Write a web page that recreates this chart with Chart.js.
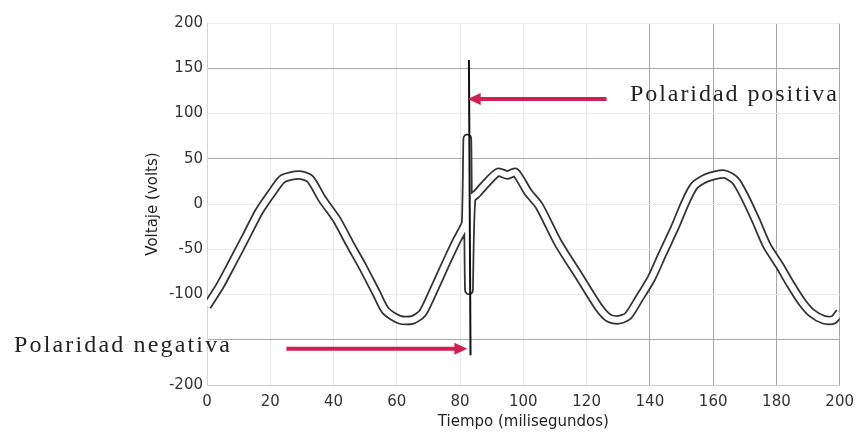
<!DOCTYPE html>
<html>
<head>
<meta charset="utf-8">
<script src="https://cdn.jsdelivr.net/npm/chart.js@4/dist/chart.umd.min.js"></script>
<style>
html,body{margin:0;padding:0;background:#fff;}
#wrap{width:862px;height:433px;}
</style>
</head>
<body>
<div id="wrap"><canvas id="c" width="862" height="433"></canvas></div>
<script>
// ---- data ----
const timeMs = [0, 4, 8, 12.5, 16.5, 21, 24, 29, 32.5, 36.5, 41, 45, 49, 53.5, 56.5, 61, 65, 68, 70, 73, 76, 79, 81, 81.8, 82.3, 82.8, 83.6, 85.5, 88, 92, 95, 97.5, 101.5, 105, 111, 117.5, 124, 127, 130, 133, 136.5, 140.5, 144, 148, 151, 154, 158, 163.5, 167, 170, 173.5, 177, 181, 184.5, 188, 191, 195, 198, 200];
const voltage = [-113, -91, -65, -35, -8, 15, 28, 32, 28, 5, -17, -43, -68, -98, -118, -128, -128, -121, -108, -85, -62, -40, -27, -20, 72, -95, 5, 12, 22, 35, 32, 35, 13, -2, -43, -79, -115, -126, -128, -124, -105, -82, -55, -25, 0, 20, 29, 33, 26, 8, -18, -46, -68, -89, -108, -120, -128, -128, -120];
const spikeTime = [82.8, 83.3];
const spikeVolt = [159, -167];
const xTicks = [0, 20, 40, 60, 80, 100, 120, 140, 160, 180, 200];
const yTicks = [200, 150, 100, 50, 0, -50, -100, -200];
// annotation arrows: [tailTime, tipTime, voltage]
const arrowPos = [126.3, 82.4, 116];
const arrowNeg = [25.1, 82.3, -160];
const labelPos = 'Polaridad positiva';
const labelNeg = 'Polaridad negativa';

const curve = timeMs.map((t, i) => ({x: t, y: voltage[i]}));
const spike = spikeTime.map((t, i) => ({x: t, y: spikeVolt[i]}));

const annot = {
  id: 'annot',
  afterDatasetsDraw(chart) {
    const ctx = chart.ctx, xs = chart.scales.x, ys = chart.scales.y;
    const red = '#cf1f53';
    function arrow(a) {
      const x0 = xs.getPixelForValue(a[0]);
      const x1 = xs.getPixelForValue(a[1]);
      const y = ys.getPixelForValue(a[2]);
      const dir = Math.sign(x1 - x0);
      ctx.save();
      ctx.strokeStyle = red; ctx.fillStyle = red;
      ctx.lineWidth = 4;
      ctx.beginPath();
      ctx.moveTo(x0, y); ctx.lineTo(x1 - dir * 10, y); ctx.stroke();
      ctx.beginPath();
      ctx.moveTo(x1, y);
      ctx.lineTo(x1 - dir * 13, y - 6);
      ctx.lineTo(x1 - dir * 13, y + 6);
      ctx.closePath(); ctx.fill();
      ctx.restore();
    }
    function label(text, left, right, cy) {
      ctx.save();
      ctx.font = '24px "Liberation Serif", "Times New Roman", serif';
      ctx.fillStyle = '#222';
      ctx.textBaseline = 'middle';
      ctx.textAlign = 'left';
      const w = ctx.measureText(text).width;
      const target = right - left;
      if ('letterSpacing' in ctx) {
        ctx.letterSpacing = ((target - w) / (text.length - 1)).toFixed(2) + 'px';
        ctx.fillText(text, left, cy);
      } else {
        ctx.translate(left, cy); ctx.scale(target / w, 1);
        ctx.fillText(text, 0, 0);
      }
      ctx.restore();
    }
    arrow(arrowPos);
    arrow(arrowNeg);
    label(labelPos, 630, 837, 95);
    label(labelNeg, 14, 230, 346);
  }
};

const tickFont = {family: '"DejaVu Sans", Verdana, sans-serif', size: 15};
const yGrid = v => (v === 150 || v === 50 || v === -150) ? '#a9a9a9' : (v === -200 ? '#cfcfcf' : '#ececec');
const xGrid = v => (v >= 140) ? '#a5a5a5' : '#e8e8e8';

new Chart(document.getElementById('c'), {
  type: 'line',
  data: {
    datasets: [
      {data: spike, borderColor: '#111', borderWidth: 2, pointRadius: 0, tension: 0, order: 1},
      {data: curve, borderColor: '#ffffff', borderWidth: 6, pointRadius: 0, tension: 0.25, borderJoinStyle: 'round', order: 2},
      {data: curve, borderColor: '#333333', borderWidth: 9.5, pointRadius: 0, tension: 0.25, borderJoinStyle: 'round', order: 3}
    ]
  },
  options: {
    responsive: false,
    animation: false,
    events: [],
    layout: {padding: {left: 140, right: 20, top: 23, bottom: 0}},
    plugins: {legend: {display: false}, tooltip: {enabled: false}},
    scales: {
      x: {
        type: 'linear', min: 0, max: 200,
        afterBuildTicks: s => { s.ticks = xTicks.map(v => ({value: v})); },
        afterFit: s => { s.height = 48; },
        ticks: {font: tickFont, color: '#333', padding: 8, maxRotation: 0},
        grid: {color: c => xGrid(c.tick ? c.tick.value : 0), drawTicks: false},
        border: {color: '#cfcfcf'},
        title: {display: true, text: 'Tiempo (milisegundos)', font: {family: '"DejaVu Sans", Verdana, sans-serif', size: 15}, color: '#222', padding: {top: 2, bottom: 2}}
      },
      y: {
        type: 'linear', min: -200, max: 200,
        afterBuildTicks: s => { s.ticks = [-200, -150, -100, -50, 0, 50, 100, 150, 200].map(v => ({value: v})); },
        afterFit: s => { s.width = 67; },
        ticks: {font: tickFont, color: '#333', padding: 4, callback: v => yTicks.includes(v) ? String(v) : ''},
        grid: {color: c => yGrid(c.tick ? c.tick.value : 0), drawTicks: false},
        border: {color: '#d5d5d5'},
        title: {display: true, text: 'Voltaje (volts)', font: {family: '"DejaVu Sans", Verdana, sans-serif', size: 15}, color: '#222', padding: {top: 4, bottom: 0}}
      }
    }
  },
  plugins: [annot]
});
</script>
</body>
</html>
